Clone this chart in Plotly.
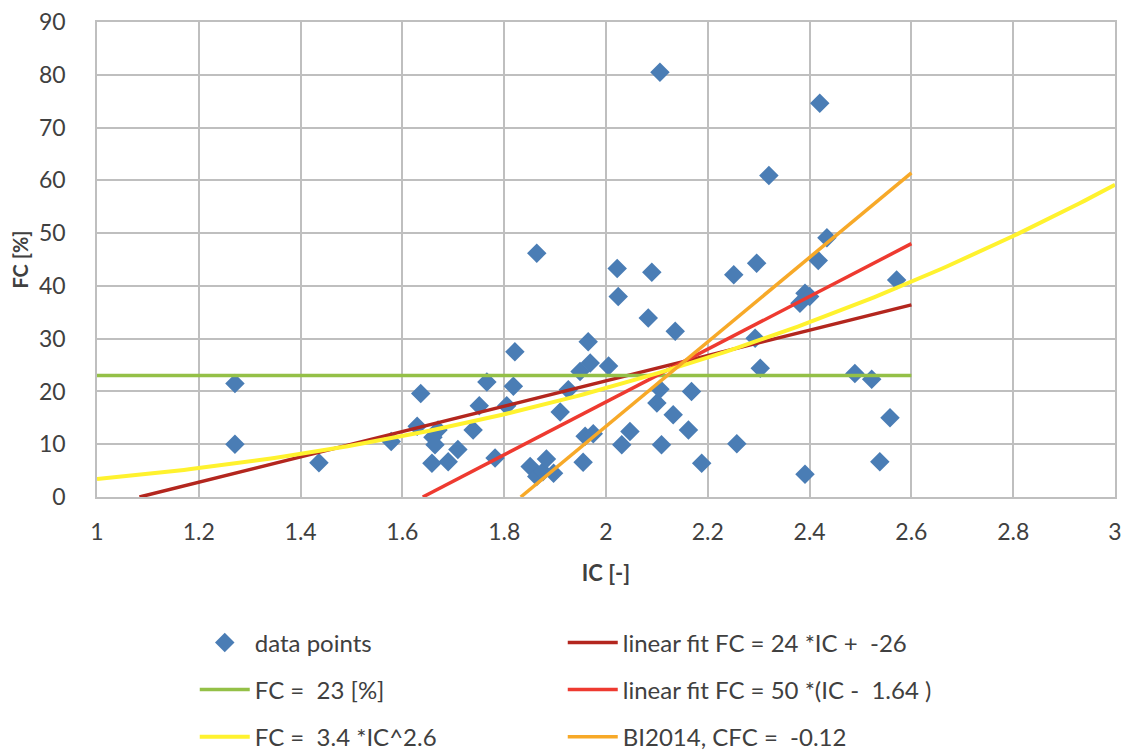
import numpy as np
import plotly.graph_objects as go

# ---- data ----
ic_points = [1.271, 1.271, 1.436, 1.578, 1.636, 1.629, 1.660, 1.670, 1.664, 1.709,
             1.690, 1.658, 1.739, 1.751, 1.766, 1.782, 1.805, 1.818, 1.821, 1.851,
             1.864, 1.876, 1.883, 1.897, 1.864, 1.910, 1.926, 1.949, 1.969, 1.965,
             2.005, 1.959, 1.975, 1.955, 2.022, 2.024, 2.031, 2.047, 2.083, 2.090,
             2.100, 2.106, 2.109, 2.106, 2.132, 2.136, 2.162, 2.168, 2.188, 2.251,
             2.257, 2.293, 2.296, 2.303, 2.320, 2.381, 2.391, 2.400, 2.391, 2.417,
             2.420, 2.434, 2.489, 2.522, 2.538, 2.558, 2.571]
fc_points = [21.5, 10.0, 6.5, 10.5, 19.6, 13.4, 11.3, 12.7, 9.9, 9.0,
             6.7, 6.4, 12.7, 17.3, 21.8, 7.4, 17.3, 21.0, 27.5, 5.8,
             3.9, 4.8, 7.2, 4.5, 46.2, 16.1, 20.3, 23.8, 25.4, 29.4,
             24.8, 11.5, 12.0, 6.6, 43.3, 38.0, 9.9, 12.4, 33.9, 42.6,
             17.8, 20.4, 9.9, 80.5, 15.6, 31.4, 12.7, 20.0, 6.4, 42.1,
             10.1, 30.1, 44.3, 24.4, 60.9, 36.7, 38.6, 38.0, 4.3, 44.8,
             74.6, 49.1, 23.4, 22.3, 6.7, 15.0, 41.1]

# fit parameters (from legend)
lin1_slope, lin1_int = 24, -26
const_fc = 23
lin2_slope, lin2_ic0 = 50, 1.64
pow_a, pow_b = 3.4, 2.6
bi_cfc = -0.12

ic_fit_min, ic_fit_max = 1.0, 2.6
ic_pow_max = 3.0

legend_names = ["data points",
                "linear fit FC = 24 *IC +\u00a0 -26",
                "FC =\u00a0 23 [%]",
                "linear fit FC = 50 *(IC -\u00a0 1.64 )",
                "FC =\u00a0 3.4 *IC^2.6",
                "BI2014, CFC =\u00a0 -0.12"]

# ---- curves ----
x1_start = max(ic_fit_min, -lin1_int / lin1_slope)
x_lin1 = np.array([x1_start, ic_fit_max])
y_lin1 = lin1_slope * x_lin1 + lin1_int

x_const = np.array([ic_fit_min, ic_fit_max])
y_const = np.full(2, const_fc)

x_lin2 = np.array([lin2_ic0, ic_fit_max])
y_lin2 = lin2_slope * (x_lin2 - lin2_ic0)

x_pow = np.linspace(1.0, ic_pow_max, 200)
y_pow = pow_a * x_pow ** pow_b

bi_start = 137 / 80 - bi_cfc
x_bi = np.array([bi_start, ic_fit_max])
y_bi = 80 * (x_bi + bi_cfc) - 137

FONT = "Lato, Open Sans, sans-serif"
TXT = "#404040"

fig = go.Figure()
fig.add_trace(go.Scatter(x=ic_points, y=fc_points, mode="markers", name=legend_names[0],
                         marker=dict(symbol="diamond", size=15, color="#4A7DB5"),
                         legend="legend"))
fig.add_trace(go.Scatter(x=x_lin1, y=y_lin1, mode="lines", name=legend_names[1],
                         line=dict(color="#B3261E", width=3.5), legend="legend"))
fig.add_trace(go.Scatter(x=x_const, y=y_const, mode="lines", name=legend_names[2],
                         line=dict(color="#94C047", width=3.5), legend="legend2"))
fig.add_trace(go.Scatter(x=x_lin2, y=y_lin2, mode="lines", name=legend_names[3],
                         line=dict(color="#EE3A30", width=3.5), legend="legend2"))
fig.add_trace(go.Scatter(x=x_pow, y=y_pow, mode="lines", name=legend_names[4],
                         line=dict(color="#FFF22E", width=4), legend="legend3"))
fig.add_trace(go.Scatter(x=x_bi, y=y_bi, mode="lines", name=legend_names[5],
                         line=dict(color="#F7A928", width=3.5), legend="legend3"))

leg_common = dict(orientation="h", x=0.166, xanchor="left", yanchor="middle",
                  xref="container", yref="container",
                  entrywidth=303, entrywidthmode="pixels", itemwidth=50,
                  font=dict(family=FONT, size=24, color=TXT),
                  bgcolor="rgba(0,0,0,0)", traceorder="normal")

fig.update_layout(
    width=1125, height=743,
    margin=dict(l=89, r=18, t=14, b=254, autoexpand=False),
    paper_bgcolor="white", plot_bgcolor="white",
    font=dict(family=FONT, size=23, color=TXT),
    showlegend=True,
    legend=dict(y=0.1454, **leg_common),
    legend2=dict(y=0.0821, **leg_common),
    legend3=dict(y=0.0188, **leg_common),
    xaxis=dict(range=[1, 3], dtick=0.2, tick0=1, showgrid=True, automargin=False,
               gridcolor="#BFBFBF", gridwidth=1.5, zeroline=False,
               showline=True, linecolor="#BFBFBF", linewidth=1.5, mirror=True,
               ticks="", ticklabelstandoff=14, ticklabeloverflow="allow",
               tickfont=dict(family=FONT, size=23, color=TXT),
               title=dict(text="<b>IC [-]</b>", font=dict(family=FONT, size=22, color=TXT), standoff=21)),
    yaxis=dict(range=[0, 90], dtick=10, showgrid=True, automargin=False,
               gridcolor="#BFBFBF", gridwidth=1.5, zeroline=False,
               showline=True, linecolor="#BFBFBF", linewidth=1.5, mirror=True,
               ticks="", ticklabelstandoff=25, ticklabeloverflow="allow",
               tickfont=dict(family=FONT, size=23, color=TXT),
               title=dict(text="<b>FC [%]</b>", font=dict(family=FONT, size=20, color=TXT), standoff=12)),
)

fig.write_html("out.html")
